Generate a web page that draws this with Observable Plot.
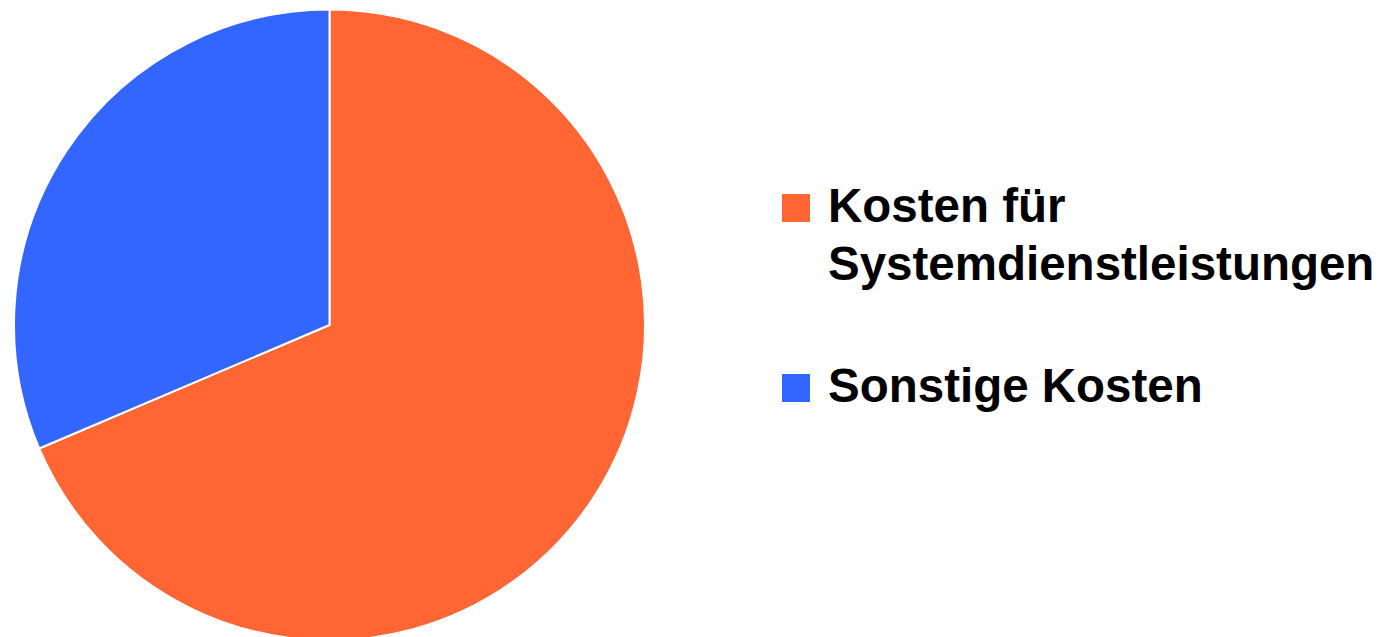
<!DOCTYPE html>
<html><head><meta charset="utf-8">
<script src="https://cdn.jsdelivr.net/npm/d3@7"></script>
<script src="https://cdn.jsdelivr.net/npm/@observablehq/plot@0.6"></script>
<style>
html,body{margin:0;padding:0;background:#fff;}
#wrap{position:relative;width:1389px;height:637px;overflow:hidden;}
#chart{position:absolute;left:0;top:0;}
#legend{position:absolute;left:782px;top:177px;display:flex;flex-direction:column;gap:64px;font-family:"Liberation Sans",Arial,Helvetica,sans-serif;font-weight:bold;font-size:47.5px;line-height:58px;color:#000;}
.item{display:flex;align-items:flex-start;}
.sw{width:28px;height:28px;margin-top:17px;margin-right:18px;flex:none;}
.lbl{white-space:pre-line;}
</style></head><body>
<div id="wrap"><div id="chart"></div><div id="legend"></div></div>
<script>
// Data
const categories = ["Kosten für Systemdienstleistungen", "Sonstige Kosten"];
const legendLabels = ["Kosten für\nSystemdienstleistungen", "Sonstige Kosten"];
const shares = [68.6, 31.4];
const colors = ["#FF6633", "#3366FF"];

const slices = categories.map((name, i) => ({name, value: shares[i]}));
const arcs = d3.pie().sort(null).value(d => d.value)(slices);
const colorScale = Plot.scale({color: {type: "ordinal", domain: categories, range: colors}});

const xOpts = {domain: [-1, 1], range: [14, 645], axis: null};
const yOpts = {domain: [-1, 1], range: [640.5, 9.5], axis: null};

function toFn(s, fallback) {
  if (typeof s === "function") return s;
  const sc = Plot.scale(fallback);
  return v => sc.apply(v);
}

function pieMark(index, scales, values, dimensions) {
  const xs = toFn(scales && scales.x, {x: xOpts});
  const ys = toFn(scales && scales.y, {y: yOpts});
  const cx = xs(0), cy = ys(0), r = Math.abs(xs(1) - xs(0));
  const g = d3.create("svg:g").attr("transform", `translate(${cx},${cy})`);
  g.selectAll("path").data(arcs).join("path")
    .attr("d", d3.arc().innerRadius(0).outerRadius(r))
    .attr("fill", d => colorScale.apply(d.data.name))
    .attr("stroke", "#fff")
    .attr("stroke-width", 2)
    .attr("stroke-linejoin", "round");
  return g.node();
}

const chart = Plot.plot({
  width: 660,
  height: 637,
  margin: 0,
  x: xOpts,
  y: yOpts,
  marks: [pieMark]
});
document.getElementById("chart").appendChild(chart);

const legend = d3.select("#legend");
categories.forEach((c, i) => {
  const item = legend.append("div").attr("class", "item");
  item.append("div").attr("class", "sw").style("background", colorScale.apply(c));
  item.append("div").attr("class", "lbl").text(legendLabels[i]);
});
</script>
</body></html>
